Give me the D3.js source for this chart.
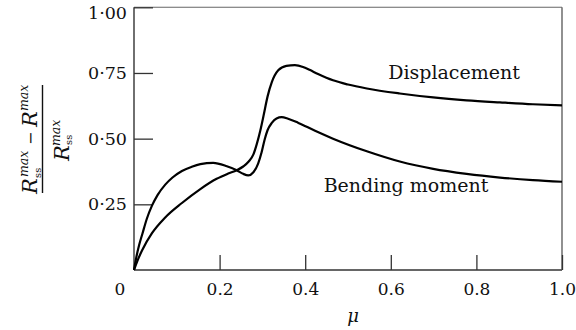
<!DOCTYPE html>
<html>
<head>
<meta charset="utf-8">
<script src="https://cdn.jsdelivr.net/npm/d3@7"></script>
<style>
  html, body { margin: 0; padding: 0; background: #fff; }
  svg { display: block; }
  text { font-family: "DejaVu Serif", "Liberation Serif", serif; fill: #111; }
</style>
</head>
<body>
<svg id="chart" width="576" height="330"></svg>
<script>
// ---- data ----
const displacementMu = [0, 0.008, 0.019, 0.042, 0.073, 0.112, 0.155, 0.193, 0.22, 0.24, 0.255, 0.268, 0.279, 0.287, 0.295, 0.303, 0.312, 0.322, 0.337, 0.356, 0.376, 0.395, 0.41, 0.43, 0.465, 0.5, 0.544, 0.621, 0.699, 0.777, 0.855, 0.932, 1.0];
const displacementVal = [0, 0.035, 0.075, 0.14, 0.2, 0.255, 0.308, 0.347, 0.367, 0.38, 0.394, 0.413, 0.44, 0.48, 0.53, 0.59, 0.66, 0.715, 0.76, 0.777, 0.78, 0.773, 0.762, 0.746, 0.722, 0.706, 0.691, 0.672, 0.657, 0.646, 0.638, 0.631, 0.627];

const bendingMu = [0, 0.005, 0.012, 0.02, 0.03, 0.042, 0.055, 0.073, 0.09, 0.112, 0.135, 0.155, 0.185, 0.217, 0.24, 0.255, 0.267, 0.279, 0.29, 0.298, 0.305, 0.312, 0.322, 0.333, 0.345, 0.36, 0.384, 0.423, 0.465, 0.544, 0.621, 0.699, 0.777, 0.855, 0.932, 1.0];
const bendingVal = [0, 0.045, 0.095, 0.14, 0.195, 0.245, 0.285, 0.325, 0.352, 0.377, 0.393, 0.403, 0.408, 0.395, 0.38, 0.366, 0.36, 0.372, 0.405, 0.447, 0.495, 0.532, 0.56, 0.577, 0.582, 0.576, 0.56, 0.53, 0.5, 0.452, 0.413, 0.385, 0.366, 0.352, 0.342, 0.336];

const xTicks = [0.2, 0.4, 0.6, 0.8, 1.0];
const xTickLabels = ["0.2", "0.4", "0.6", "0.8", "1.0"];
const yTicks = [0.25, 0.5, 0.75, 1.0];
const yTickLabels = ["0·25", "0·50", "0·75", "1·00"];
const seriesLabels = ["Displacement", "Bending moment"];

// ---- layout ----
const mLeft = 134, mRight = 562, mTop = 7.3, mBottom = 270;
const svg = d3.select("#chart");
const x = d3.scaleLinear().domain([0, 1]).range([mLeft, mRight]);
const y = d3.scaleLinear().domain([0, 1]).range([mBottom, mTop]);

// frame
const axisColor = "#333";
svg.append("line").attr("x1", mLeft).attr("x2", mRight).attr("y1", mBottom).attr("y2", mBottom)
  .attr("stroke", axisColor).attr("stroke-width", 1.4);
svg.append("line").attr("x1", mLeft).attr("x2", mLeft).attr("y1", mTop).attr("y2", mBottom)
  .attr("stroke", axisColor).attr("stroke-width", 1.4);
svg.append("line").attr("x1", mRight).attr("x2", mRight).attr("y1", mTop).attr("y2", mBottom)
  .attr("stroke", "#555").attr("stroke-width", 1.3);
svg.append("line").attr("x1", mLeft).attr("x2", mRight).attr("y1", mTop).attr("y2", mTop)
  .attr("stroke", "#666").attr("stroke-width", 1.1);

// x axis (ticks inward)
const xAxis = d3.axisBottom(x).tickValues(xTicks)
  .tickFormat((d, i) => xTickLabels[i]).tickSizeInner(-15).tickSizeOuter(0).tickPadding(13);
const gx = svg.append("g").attr("transform", `translate(0,${mBottom})`).call(xAxis);
gx.select(".domain").remove();
gx.selectAll(".tick line").attr("stroke", axisColor).attr("stroke-width", 1.3);
gx.selectAll(".tick text").attr("font-size", 17).attr("fill", "#111");

// y axis (ticks inward)
const yAxis = d3.axisLeft(y).tickValues(yTicks)
  .tickFormat((d, i) => yTickLabels[i]).tickSizeInner(-19).tickSizeOuter(0).tickPadding(7);
const gy = svg.append("g").attr("transform", `translate(${mLeft},0)`).call(yAxis);
gy.select(".domain").remove();
gy.selectAll(".tick line").attr("stroke", axisColor).attr("stroke-width", 1.3);
gy.selectAll(".tick text").attr("font-size", 17.5).attr("fill", "#111");
gy.selectAll(".tick").filter(d => d === 1.0).select("text").attr("dy", "0.65em");

// shared origin label
svg.append("text").attr("x", 120).attr("y", 295).attr("text-anchor", "middle")
  .attr("font-size", 17).text("0");

// curves
const line = d3.line().x(d => x(d[0])).y(d => y(d[1])).curve(d3.curveMonotoneX);
const dispData = displacementMu.map((m, i) => [m, displacementVal[i]]);
const bendData = bendingMu.map((m, i) => [m, bendingVal[i]]);
[dispData, bendData].forEach(dat => {
  svg.append("path").datum(dat).attr("d", line)
    .attr("fill", "none").attr("stroke", "#000").attr("stroke-width", 2.2)
    .attr("stroke-linejoin", "round");
});

// series labels
svg.append("text").attr("x", 454).attr("y", 78.5).attr("text-anchor", "middle")
  .attr("font-size", 19).text(seriesLabels[0]);
svg.append("text").attr("x", 406).attr("y", 192).attr("text-anchor", "middle")
  .attr("font-size", 19).text(seriesLabels[1]);

// x axis title
svg.append("text").attr("x", 353).attr("y", 322).attr("text-anchor", "middle")
  .attr("font-size", 18).attr("font-style", "italic").text("μ");

// y axis title: fraction, rotated
function rot(txt, X, Y, size, italic) {
  svg.append("text").attr("transform", `translate(${X},${Y}) rotate(-90)`)
    .attr("font-size", size).attr("font-style", italic ? "italic" : "normal").text(txt);
}
rot("R", 37, 194, 21, true);
rot("ss", 40.5, 178, 10, false);
rot("max", 28, 177, 12.5, true);
rot("−", 36, 145, 16, false);
rot("R", 37, 127, 21, true);
rot("max", 28, 111, 12.5, true);
svg.append("line").attr("x1", 42.5).attr("x2", 42.5).attr("y1", 85).attr("y2", 193)
  .attr("stroke", "#111").attr("stroke-width", 1.4);
rot("R", 69, 161, 21, true);
rot("max", 60, 146, 12.5, true);
rot("ss", 72, 145, 10, false);
</script>
</body>
</html>
